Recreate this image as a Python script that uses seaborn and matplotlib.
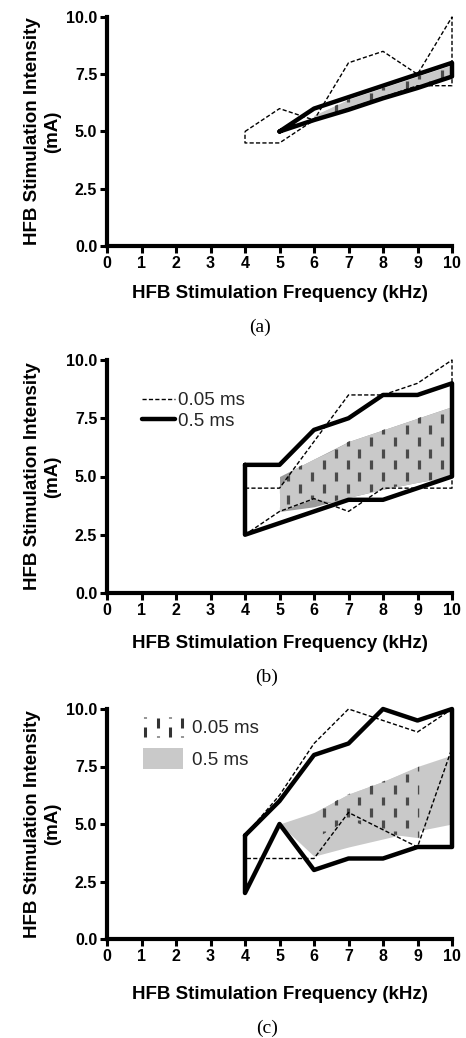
import numpy as np
import matplotlib
matplotlib.use("Agg")
import matplotlib.pyplot as plt
import seaborn as sns
from matplotlib.lines import Line2D
from matplotlib.patches import Patch
from matplotlib.legend_handler import HandlerBase
from matplotlib.ticker import FormatStrFormatter

sns.set_theme(style="ticks")
plt.rcParams["font.family"] = ["Liberation Sans", "DejaVu Sans"]
plt.rcParams["lines.scale_dashes"] = False

# ---------------- data ----------------
freq_ticks = list(range(0, 11))
int_ticks = [0.0, 2.5, 5.0, 7.5, 10.0]

# Panel (a)
a_thin_x = [4, 5, 6, 7, 8, 9, 10]
a_thin_hi = [5.0, 6.0, 5.5, 8.0, 8.5, 7.5, 10.0]
a_thin_lo = [4.5, 4.5, 5.5, 6.0, 6.5, 7.0, 7.0]
a_thick_x = [5, 6, 7, 8, 9, 10]
a_thick_hi = [5.0, 6.0, 6.5, 7.0, 7.5, 8.0]
a_thick_lo = [5.0, 5.5, 5.95, 6.45, 6.9, 7.4]
a_gray_x = [6, 7, 8, 9, 10]
a_gray_hi = [5.7, 6.4, 6.9, 7.4, 7.9]
a_gray_lo = [5.55, 6.0, 6.5, 6.95, 7.45]
a_hatch_x = a_gray_x
a_hatch_hi = a_gray_hi
a_hatch_lo = a_gray_lo

# Panel (b)
b_thin_x = [4, 5, 6, 7, 8, 9, 10]
b_thin_hi = [4.5, 4.5, 6.5, 8.5, 8.5, 9.0, 10.0]
b_thin_lo = [2.5, 3.5, 4.05, 3.5, 4.5, 4.5, 4.5]
b_thick_x = [4, 5, 6, 7, 8, 9, 10]
b_thick_hi = [5.5, 5.5, 7.0, 7.5, 8.5, 8.5, 9.0]
b_thick_lo = [2.5, 3.0, 3.5, 4.0, 4.0, 4.5, 5.0]
b_gray_x = [5, 6, 7, 8, 9, 10]
b_gray_hi = [5.0, 5.75, 6.5, 7.0, 7.5, 8.0]
b_gray_lo = [3.5, 3.7, 4.1, 4.45, 4.75, 5.0]
b_hatch_x = [5, 5.4, 6, 6.5, 7, 8, 9, 10]
b_hatch_hi = [4.5, 5.3, 5.75, 6.1, 6.5, 7.0, 7.5, 8.0]
b_hatch_lo = [3.5, 3.72, 4.05, 3.9, 4.1, 4.45, 4.75, 5.0]

# Panel (c)
c_thin_x = [4, 5, 6, 7, 8, 9, 10]
c_thin_hi = [4.5, 6.25, 8.5, 10.0, 9.5, 9.0, 10.0]
c_thin_lo = [3.5, 3.5, 3.5, 5.5, 4.75, 4.0, 8.3]
c_thick_x = [4, 5, 6, 7, 8, 9, 10]
c_thick_hi = [4.5, 6.0, 8.0, 8.5, 10.0, 9.5, 10.0]
c_thick_lo = [2.0, 5.0, 3.0, 3.5, 3.5, 4.0, 4.0]
c_gray_x = [5, 6, 7, 8, 9, 10]
c_gray_hi = [5.0, 5.5, 6.3, 6.85, 7.5, 8.0]
c_gray_lo = [5.0, 3.6, 4.0, 4.35, 4.7, 5.0]
c_hatch_x = [6.2, 7, 8, 9.05]
c_hatch_hi = [5.65, 6.3, 6.85, 7.5]
c_hatch_lo = [4.5, 5.2, 4.6, 4.4]

legend_labels = ["0.05 ms", "0.5 ms"]
captions = ["(a)", "(b)", "(c)"]
xlabel = "HFB Stimulation Frequency (kHz)"
ylabel = "HFB Stimulation Intensity\n(mA)"

# ---------------- style ----------------
W, H = 466, 1038
LIGHT = "#c9c9c9"
DARK = "#9a9a9a"
DASHC = "#4a4a4a"
THIN_LS = (0, (3.0, 1.6))


def outline(x, hi, lo):
    xs = list(x) + list(x)[::-1] + [x[0]]
    ys = list(hi) + list(lo)[::-1] + [hi[0]]
    return xs, ys


class HatchHandler(HandlerBase):
    def create_artists(self, legend, orig_handle, xdescent, ydescent,
                       width, height, fontsize, trans):
        x0, y0 = -xdescent, -ydescent
        arts = []
        for i, f in enumerate([0.05, 0.37, 0.68, 0.97]):
            x = x0 + width * f
            if i % 2 == 0:
                segs = [(y0, y0 + 0.5 * height), (y0 + 0.93 * height, y0 + 1.0 * height)]
            else:
                segs = [(y0 + 0.45 * height, y0 + 0.95 * height), (y0, y0 + 0.05 * height)]
            for ya, yb in segs:
                arts.append(Line2D([x, x], [ya, yb], color="#333333", lw=2.2,
                                   solid_capstyle="butt", transform=trans))
        return arts


class HatchKey:
    pass


fig = plt.figure(figsize=(W / 100, H / 100), dpi=100)

panels = [
    dict(top=17, bot=246, thin=(a_thin_x, a_thin_hi, a_thin_lo),
         thick=(a_thick_x, a_thick_hi, a_thick_lo),
         gray=(a_gray_x, a_gray_hi, a_gray_lo), band=LIGHT,
         hatch=(a_hatch_x, a_hatch_hi, a_hatch_lo),
         xlab_y=285, cap_y=327, cap_x=260),
    dict(top=360, bot=593, thin=(b_thin_x, b_thin_hi, b_thin_lo),
         thick=(b_thick_x, b_thick_hi, b_thick_lo),
         gray=(b_gray_x, b_gray_hi, b_gray_lo), band=DARK,
         hatch=(b_hatch_x, b_hatch_hi, b_hatch_lo),
         xlab_y=635, cap_y=677, cap_x=267),
    dict(top=709, bot=939, thin=(c_thin_x, c_thin_hi, c_thin_lo),
         thick=(c_thick_x, c_thick_hi, c_thick_lo),
         gray=(c_gray_x, c_gray_hi, c_gray_lo), band=LIGHT,
         hatch=(c_hatch_x, c_hatch_hi, c_hatch_lo),
         xlab_y=986, cap_y=1028, cap_x=267),
]

L, R = 107, 452
col_step = 0.343
col_x = 5.26 + col_step * np.arange(-4, 15)

for idx, p in enumerate(panels):
    hpx = p["bot"] - p["top"]
    ax = fig.add_axes([L / W, 1 - p["bot"] / H, (R - L) / W, hpx / H])
    ax.set_xlim(0, 10)
    ax.set_ylim(0, 10)

    gx, ghi, glo = p["gray"]
    ax.fill_between(gx, glo, ghi, color=p["band"], lw=0, zorder=1)
    hx, hhi, hlo = p["hatch"]
    pc = ax.fill_between(hx, hlo, hhi, color=LIGHT, lw=0, zorder=1.1)

    # texture of short vertical dashes, clipped to hatch region
    xs_d, y0s, y1s = [], [], []
    for i, cx in enumerate(col_x):
        off = 0.5 if (i % 2) else 0.0
        for k in range(0, 11):
            cy = k + off
            xs_d.append(cx)
            y0s.append(cy - 0.19)
            y1s.append(cy + 0.19)
    lc = ax.vlines(xs_d, y0s, y1s, colors=DASHC, lw=2.3, zorder=1.5)
    lc.set_clip_path(pc.get_paths()[0], ax.transData)

    tx, thi, tlo = p["thin"]
    ox, oy = outline(tx, thi, tlo)
    sns.lineplot(x=ox, y=oy, sort=False, estimator=None, ax=ax, color="black",
                 lw=1.0, linestyle=THIN_LS, legend=False, clip_on=False, zorder=2)
    kx, khi, klo = p["thick"]
    ox, oy = outline(kx, khi, klo)
    sns.lineplot(x=ox, y=oy, sort=False, estimator=None, ax=ax, color="black",
                 lw=3.2, legend=False, clip_on=False, zorder=3)

    sns.despine(ax=ax)
    for s in ["left", "bottom"]:
        ax.spines[s].set_linewidth(3)
        ax.spines[s].set_color("black")
    ax.set_xticks(freq_ticks)
    ax.set_yticks(int_ticks)
    ax.yaxis.set_major_formatter(FormatStrFormatter("%.1f"))
    ax.tick_params(axis="both", direction="out", length=5, width=2.2,
                   color="black", labelsize=11.5, labelcolor="black", pad=2)
    for t in ax.get_xticklabels() + ax.get_yticklabels():
        t.set_fontweight("bold")

    ax.set_xlabel(xlabel, fontsize=13.5, fontweight="bold", color="black")
    ax.xaxis.set_label_coords(0.5, (p["bot"] - p["xlab_y"]) / hpx)
    ax.set_ylabel(ylabel, fontsize=13.5, fontweight="bold", color="black")
    ax.yaxis.set_label_coords((61 - L) / (R - L), 0.5)

    fig.text(p["cap_x"] / W, 1 - p["cap_y"] / H, captions[idx],
             family="Liberation Serif", fontsize=14, ha="center", va="center",
             color="black")

    if idx == 1:
        handles = [Line2D([], [], color="black", lw=1.0, linestyle=THIN_LS),
                   Line2D([], [], color="black", lw=3.2)]
        ax.legend(handles, legend_labels, loc="upper left",
                  bbox_to_anchor=((142 - L) / (R - L), (p["bot"] - 392) / hpx),
                  frameon=False, fontsize=13.5, borderpad=0, borderaxespad=0,
                  handlelength=1.76, handletextpad=0.16, labelspacing=0.19)
    if idx == 2:
        handles = [HatchKey(), Patch(facecolor=LIGHT, edgecolor="none")]
        ax.legend(handles, legend_labels, loc="upper left",
                  bbox_to_anchor=((143 - L) / (R - L), (p["bot"] - 717) / hpx),
                  frameon=False, fontsize=13.5, borderpad=0, borderaxespad=0,
                  handlelength=2.13, handleheight=1.28, handletextpad=0.48,
                  labelspacing=0.59, handler_map={HatchKey: HatchHandler()})

fig.savefig("out.png", dpi=100, facecolor="white")
